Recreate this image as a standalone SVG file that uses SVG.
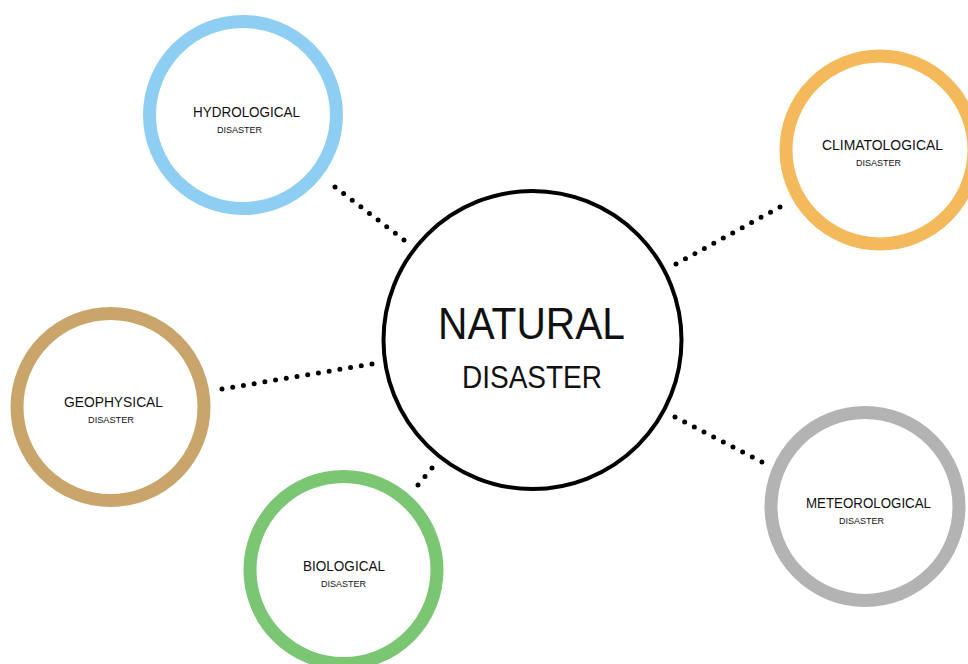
<svg xmlns="http://www.w3.org/2000/svg" width="968" height="664" viewBox="0 0 968 664">
  <style>
    .ring { fill: #ffffff; stroke-width: 13; }
    .hub { fill: #ffffff; stroke: #000000; stroke-width: 4; }
    .dots { fill: none; stroke: #000000; stroke-width: 5; stroke-linecap: round; }
    text { font-family: "Liberation Sans", Arial, sans-serif; fill: #111111; }
    .title { font-size: 15.5px; }
    .sub { font-size: 9.5px; }
  </style>
  <rect width="968" height="664" fill="#ffffff"/>

  <!-- dotted connectors from the hub to each category -->
  <g id="connectors">
    <path class="dots" d="M335,187 L404,240" stroke-dasharray="0 10.87"/>
    <path class="dots" d="M676,264 L780,207" stroke-dasharray="0 10.78"/>
    <path class="dots" d="M222,389 L372,364" stroke-dasharray="0 10.86"/>
    <path class="dots" d="M418,485 L432,468" stroke-dasharray="0 11.01"/>
    <path class="dots" d="M675,417 L762,462" stroke-dasharray="0 10.88"/>
  </g>

  <g id="natural-disaster">
    <circle class="hub" cx="532.5" cy="340" r="149"/>
    <text x="438" y="339" font-size="44" textLength="187" lengthAdjust="spacingAndGlyphs">NATURAL</text>
    <text x="462" y="388" font-size="31" textLength="140" lengthAdjust="spacingAndGlyphs">DISASTER</text>
  </g>

  <g id="hydrological">
    <circle class="ring" cx="243" cy="115" r="93.5" stroke="#8fcef3"/>
    <text class="title" x="193" y="117" textLength="107" lengthAdjust="spacingAndGlyphs">HYDROLOGICAL</text>
    <text class="sub" x="217" y="133" textLength="45" lengthAdjust="spacingAndGlyphs">DISASTER</text>
  </g>

  <g id="climatological">
    <circle class="ring" cx="880" cy="150" r="94" stroke="#f4b95a"/>
    <text class="title" x="822" y="150" textLength="121" lengthAdjust="spacingAndGlyphs">CLIMATOLOGICAL</text>
    <text class="sub" x="856" y="166" textLength="45" lengthAdjust="spacingAndGlyphs">DISASTER</text>
  </g>

  <g id="geophysical">
    <circle class="ring" cx="110.5" cy="407" r="93.5" stroke="#c9a56b"/>
    <text class="title" x="64" y="407" textLength="99" lengthAdjust="spacingAndGlyphs">GEOPHYSICAL</text>
    <text class="sub" x="88" y="423" textLength="46" lengthAdjust="spacingAndGlyphs">DISASTER</text>
  </g>

  <g id="biological">
    <circle class="ring" cx="343.5" cy="570" r="93.5" stroke="#7ac673"/>
    <text class="title" x="303" y="571" textLength="82" lengthAdjust="spacingAndGlyphs">BIOLOGICAL</text>
    <text class="sub" x="321" y="587" textLength="45" lengthAdjust="spacingAndGlyphs">DISASTER</text>
  </g>

  <g id="meteorological">
    <circle class="ring" cx="865" cy="506.5" r="94" stroke="#b3b3b3"/>
    <text class="title" x="806" y="508" textLength="125" lengthAdjust="spacingAndGlyphs">METEOROLOGICAL</text>
    <text class="sub" x="839" y="524" textLength="45" lengthAdjust="spacingAndGlyphs">DISASTER</text>
  </g>
</svg>
